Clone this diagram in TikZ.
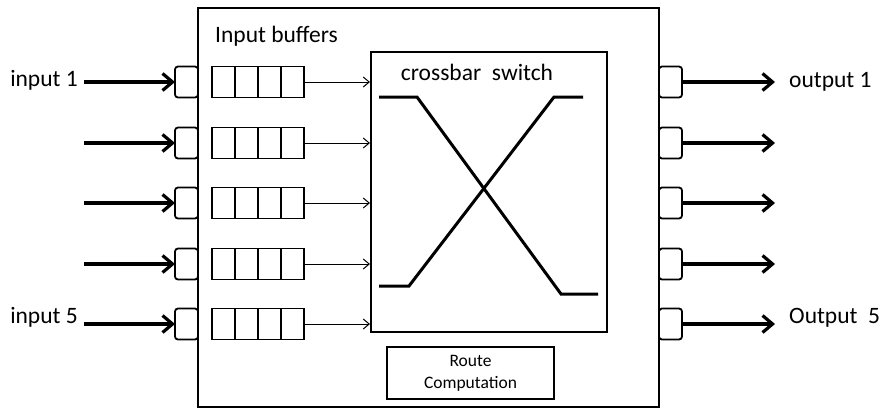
\documentclass[tikz,border=0pt]{standalone}
\usepackage{fontspec}
\setmainfont{Carlito}
\usetikzlibrary{arrows.meta}
\begin{document}
\begin{tikzpicture}[x=1pt,y=-1pt,
  mainbox/.style={draw,line width=2pt},
  port/.style={draw,line width=1.8pt,rounded corners=3pt,minimum width=23pt,minimum height=31pt,inner sep=0pt,outer sep=0pt},
  bufbox/.style={draw,line width=1.9pt,minimum width=92pt,minimum height=31pt,inner sep=0pt,outer sep=0pt},
  thickarrow/.style={line width=3.2pt,-{Straight Barb[length=10pt,width=17pt]}},
  thinarrow/.style={line width=1pt,-{Straight Barb[length=6pt,width=10pt]}},
  xline/.style={line width=3pt},
  lbl/.style={font=\fontsize{23.5}{28}\selectfont,inner sep=0pt}
]
\useasboundingbox (0,0) rectangle (883,408);
% main box
\node[mainbox,minimum width=461pt,minimum height=399pt,inner sep=0pt] (main) at (428.5,207) {};
\node[lbl,anchor=base west] (ibtxt) at (215,42) {Input buffers};
% crossbar
\node[draw,line width=2pt,minimum width=236pt,minimum height=280pt,inner sep=0pt] (xbar) at (489,192) {};
\node[lbl,anchor=base] (xtxt) at (477,80) {crossbar\ \ switch};
\draw[xline] (379,97) -- (417,97) -- (561,294) -- (598,294);
\draw[xline] (379,286) -- (409,286) -- (554,97) -- (583,97);
% route computation
\node[draw,line width=2pt,minimum width=167pt,minimum height=52pt,inner sep=0pt,align=center,
  font=\fontsize{17.5}{22}\selectfont] (route) at (470.5,373) {Route\\Computation};
% rows
\foreach \i/\y in {1/82,2/143,3/203,4/264,5/324}{
  \node[port] (ip\i) at (186.5,\y) {};
  \node[bufbox] (buf\i) at (258,\y) {};
  \draw[line width=1.9pt] (235,\y-15.5) -- (235,\y+15.5)
    (258,\y-15.5) -- (258,\y+15.5) (281,\y-15.5) -- (281,\y+15.5);
  \coordinate (in\i) at (84,\y);
  \draw[thickarrow] (in\i) -- (ip\i.west);
  \draw[thinarrow] (buf\i.east) -- (xbar.west |- buf\i.east);
  \node[port] (op\i) at (670.5,\y) {};
  \coordinate (out\i) at (775,\y);
  \draw[thickarrow] (op\i.east) -- (out\i);
}
\node[lbl,anchor=base east] (l1) at (78,86) {input 1};
\node[lbl,anchor=base east] (l5) at (78,323) {input 5};
\node[lbl,anchor=base west] (o1) at (789,87) {output 1};
\node[lbl,anchor=base west] (o5) at (789,323) {Output\ \ 5};
\end{tikzpicture}
\end{document}
